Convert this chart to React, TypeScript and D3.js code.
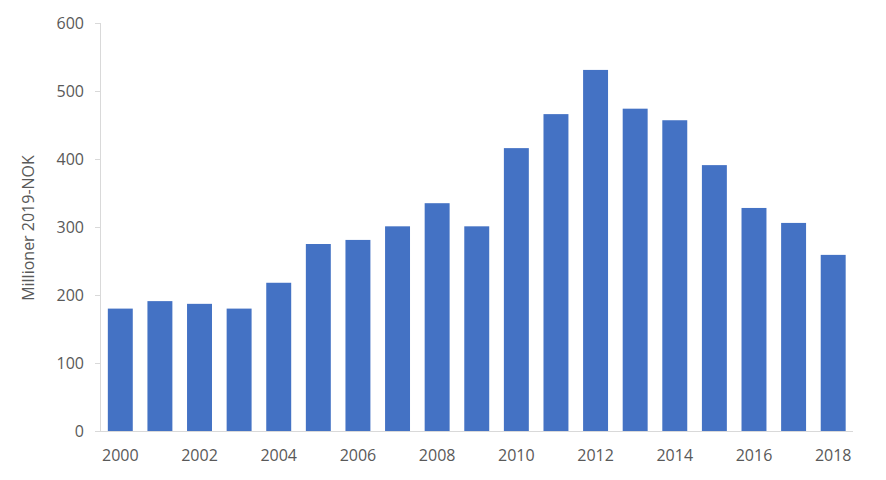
import React from "react";
import * as d3 from "d3";

const years = ["2000","2001","2002","2003","2004","2005","2006","2007","2008","2009","2010","2011","2012","2013","2014","2015","2016","2017","2018"];
const values = [180, 191, 187, 180, 218, 275, 281, 301, 335, 301, 416, 466, 531, 474, 457, 391, 328, 306, 259];
const yTicks = [0, 100, 200, 300, 400, 500, 600];
const xLabels = ["2000","2002","2004","2006","2008","2010","2012","2014","2016","2018"];

const W = 886, H = 480;
const left = 100.5, right = 853, top = 23, bottom = 431;
const font = "'Open Sans', 'Liberation Sans', sans-serif";
const textColor = "#595959";

export default function App() {
  const x = d3.scaleBand().domain(years).range([left, right]).paddingInner(0.37).paddingOuter(0.185);
  const y = d3.scaleLinear().domain([0, 600]).range([bottom, top]);
  return (
    <svg width={W} height={H} style={{ position: "absolute", left: 0, top: 0, background: "#fff" }}>
      <rect x={0} y={0} width={W} height={H} fill="#fff" />
      {values.map((v, i) => (
        <rect key={years[i]} x={x(years[i])} y={y(v)} width={x.bandwidth()} height={y(0) - y(v)} fill="#4472c4" />
      ))}
      <line x1={left} x2={left} y1={top} y2={bottom} stroke="#d9d9d9" strokeWidth={1} />
      <line x1={95} x2={right} y1={bottom + 0.5} y2={bottom + 0.5} stroke="#d9d9d9" strokeWidth={1} />
      {yTicks.map(t => (
        <g key={t}>
          <line x1={95} x2={left} y1={y(t) + 0.5} y2={y(t) + 0.5} stroke="#d9d9d9" />
          <text x={84} y={y(t)} dy="0.35em" textAnchor="end" fontFamily={font} fontSize={16} fill={textColor}>{t}</text>
        </g>
      ))}
      {xLabels.map(l => (
        <text key={l} x={(x(l) as number) + x.bandwidth() / 2} y={455} dy="0.35em" textAnchor="middle" fontFamily={font} fontSize={16} fill={textColor}>{l}</text>
      ))}
      <text transform={`translate(34,228) rotate(-90)`} textAnchor="middle" fontFamily={font} fontSize={16} fill={textColor}>Millioner 2019-NOK</text>
    </svg>
  );
}
